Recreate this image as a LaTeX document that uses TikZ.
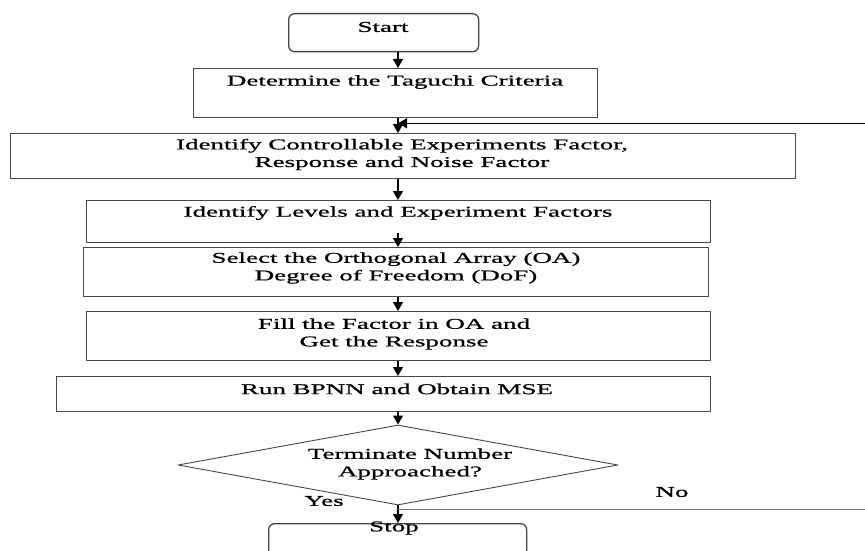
\documentclass[tikz,border=0pt]{standalone}
\usepackage{fontspec}
\setmainfont{Liberation Serif}[FakeStretch=1.8, FakeBold=0.9]
\usetikzlibrary{calc, positioning}
\usetikzlibrary{arrows.meta}
\usetikzlibrary{shapes.geometric}

\tikzset{
  stepbox/.style={draw=boxgray, line width=1.3pt, anchor=north west, inner sep=0pt},
  steptext/.style={align=center, inner sep=0pt, font=\fontsize{15}{17.6}\selectfont},
  flow/.style={draw=black, line width=1.2pt, -{Triangle[width=10pt, length=9pt]}},
}

\begin{document}
\begin{tikzpicture}[x=1pt, y=-1pt, line join=round]
\colorlet{boxgray}{black!72}
\colorlet{loopgray}{black!55}

\useasboundingbox (0,0) rectangle (865,551);

\coordinate (axis) at (398,0);
\coordinate (edge) at (868,0);

\node[stepbox, rounded corners=6pt, minimum width=190pt, minimum height=38pt] (start) at (288,13) {};
\node[stepbox, minimum width=404pt, minimum height=49pt] (crit) at (193,68) {};
\node[stepbox, minimum width=785pt, minimum height=45pt] (ident) at (10,133) {};
\node[stepbox, minimum width=624pt, minimum height=42pt] (levels) at (86,200) {};
\node[stepbox, minimum width=625pt, minimum height=49pt] (oa) at (83,247) {};
\node[stepbox, minimum width=624pt, minimum height=49pt] (fill) at (86,311) {};
\node[stepbox, minimum width=654pt, minimum height=35pt] (run) at (56,376) {};
\node[diamond, draw=boxgray, line width=0.9pt, inner sep=0pt, minimum width=440pt, minimum height=80pt] (dec) at (398,465) {};
\node[stepbox, rounded corners=6pt, minimum width=258pt, minimum height=45pt] (stop) at (268,523) {};

\node[steptext] (startT) at (383,27) {Start};
\node[steptext] (critT) at (395,82) {Determine the Taguchi Criteria};
\node[steptext] (identT) at (402,154.5) {Identify Controllable Experiments Factor,\\Response and Noise Factor};
\node[steptext] (levelsT) at (398,213) {Identify Levels and Experiment Factors};
\node[steptext] (oaT) at (396,268) {Select the Orthogonal Array (OA)\\Degree of Freedom (DoF)};
\node[steptext] (fillT) at (394,334) {Fill the Factor in OA and\\Get the Response};
\node[steptext] (runT) at (397,389) {Run BPNN and Obtain MSE};
\node[steptext] (decT) at (410,464) {Terminate Number\\Approached?};
\node[steptext] (stopT) at (394,528) {Stop};
\node[steptext] (yes) at (324,501) {Yes};
\node[steptext] (no) at (672,492) {No};

\draw[flow] (start.south -| axis) -- (crit.north -| axis);
\draw[flow] (crit.south -| axis) -- (ident.north -| axis);
\draw[flow] (ident.south -| axis) -- (levels.north -| axis);
\draw[flow] ([yshift=10pt]levels.south -| axis) -- (oa.north -| axis);
\draw[flow] (oa.south -| axis) -- (fill.north -| axis);
\draw[flow] (fill.south -| axis) -- (run.north -| axis);
\draw[flow] (run.south -| axis) -- (dec.north);
\draw[flow] (dec.south) -- (stop.north -| axis);

\coordinate (split) at ($(dec.south)+(0,4)$);
\coordinate (back) at ($(crit.south -| axis)+(0,5)$);
\draw[draw=loopgray, line width=1.8pt] (split) -- (split -| edge) -- (back -| edge);
\draw[flow] (back -| edge) -- (back);
\end{tikzpicture}
\end{document}
